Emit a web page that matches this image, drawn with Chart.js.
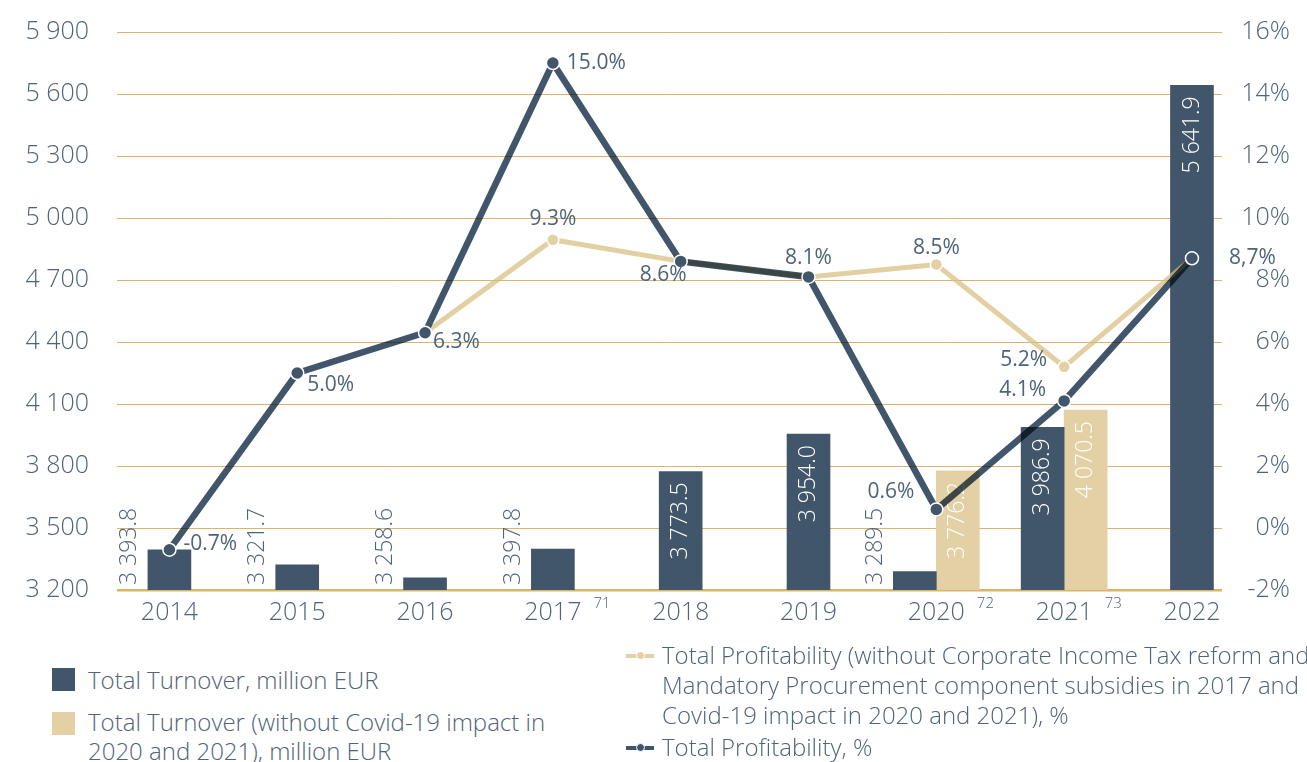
<!DOCTYPE html>
<html>
<head>
<meta charset="utf-8">
<title>Turnover and profitability</title>
<script src="https://cdn.jsdelivr.net/npm/chart.js@4.4.0/dist/chart.umd.min.js"></script>
<style>
  body { margin: 0; background: #fff; font-family: "Open Sans", sans-serif; font-weight: 300; color: #4f6478; }
  #wrap { position: relative; width: 1307px; height: 762px; overflow: hidden; }
  #chartBox { position: absolute; left: 0; top: 0; width: 1307px; height: 640px; }
  .lg { position: absolute; font-size: 24px; white-space: nowrap; }
  .sq { position: absolute; width: 23px; height: 23px; }
  .mk { position: absolute; width: 28px; height: 4px; }
  .mk i { position: absolute; left: 10px; top: -3px; width: 7px; height: 7px; border-radius: 50%; border: 1px solid #fff; }
</style>
</head>
<body>
<div id="wrap">
  <div id="chartBox"><canvas id="chart"></canvas></div>

  <div class="sq" style="left:52px; top:668px; background:#42566b;"></div>
  <div class="lg" style="left:88px; top:665px; line-height:30px;">Total Turnover, million EUR</div>

  <div class="sq" style="left:52px; top:712px; background:#e3d0a5;"></div>
  <div class="lg" style="left:88px; top:707px; line-height:29px;">Total Turnover (without Covid-19 impact in<br>2020 and 2021), million EUR</div>

  <div class="mk" style="left:626px; top:654px; background:#e3d0a5;"><i style="background:#e3d0a5;"></i></div>
  <div class="lg" style="left:662px; top:640px; line-height:30px;">Total Profitability (without Corporate Income Tax reform and<br>Mandatory Procurement component subsidies in 2017 and<br>Covid-19 impact in 2020 and 2021), %</div>

  <div class="mk" style="left:626px; top:746px; background:#42566b;"><i style="background:#42566b;"></i></div>
  <div class="lg" style="left:662px; top:732px; line-height:30px;">Total Profitability, %</div>
</div>

<script>
const years = [2014, 2015, 2016, 2017, 2018, 2019, 2020, 2021, 2022];
const footnotes = ["", "", "", "71", "", "", "72", "73", ""];

// million EUR
const turnover = [3393.8, 3321.7, 3258.6, 3397.8, 3773.5, 3954.0, 3289.5, 3986.9, 5641.9];
const turnoverAdj = [null, null, null, null, null, null, 3776.2, 4070.5, null];

// %
const profit = [-0.7, 5.0, 6.3, 15.0, 8.6, 8.1, 0.6, 4.1, 8.7];
const profitAdj = [null, null, 6.3, 9.3, 8.6, 8.1, 8.5, 5.2, 8.7];

const turnoverTicks = [3200, 3500, 3800, 4100, 4400, 4700, 5000, 5300, 5600, 5900];
const profitTicks = [-2, 0, 2, 4, 6, 8, 10, 12, 14, 16];

const NAVY = "#42566b";
const SAND = "#e3d0a5";
const TEXT = "#4f6478";
const GRID = "#dcb467";
const FONT = "'Open Sans', sans-serif";

// where each profitability label sits next to its point
const profitLabelPos = [
  { dx: 14, dy: -6, align: "left" },
  { dx: 10, dy: 12, align: "left" },
  { dx: 8, dy: 9, align: "left" },
  { dx: 14, dy: 0, align: "left" },
  { dx: 6, dy: 14, align: "right" },
  { dx: 0, dy: -19, align: "center" },
  { dx: -22, dy: -17, align: "right" },
  { dx: -18, dy: -11, align: "right" },
  { dx: 37, dy: 0, align: "left" }
];
const profitAdjLabelPos = [
  null, null, null,
  { dx: 0, dy: -21, align: "center" },
  null, null,
  { dx: 0, dy: -16, align: "center" },
  { dx: -17, dy: -7, align: "right" },
  null
];

function spaced(n, dec) {
  const [i, d] = n.toFixed(dec).split(".");
  return i.replace(/\B(?=(\d{3})+(?!\d))/g, " ") + (d ? "." + d : "");
}

function pctText(v, i) {
  const s = v.toFixed(1);
  // the last year is printed with a decimal comma
  return (i === years.length - 1 ? s.replace(".", ",") : s) + "%";
}

const pts = (arr) => years.map((y, i) => ({ x: y, y: arr[i] }));

/* ---------- rotated value labels on bars ---------- */
const barLabels = {
  id: "barLabels",
  afterDatasetDraw(chart, args) {
    const ds = chart.data.datasets[args.index];
    if (ds.type !== "bar") return;
    const { ctx, chartArea } = chart;
    ctx.save();
    ctx.font = "300 23px " + FONT;
    ctx.textBaseline = "middle";
    args.meta.data.forEach((bar, i) => {
      const v = ds.data[i].y;
      if (v == null) return;
      const p = bar.getProps(["x", "y", "base", "width"], true);
      const bottom = Math.min(p.base, chartArea.bottom);
      const txt = spaced(v, 1);
      const w = ctx.measureText(txt).width;
      ctx.save();
      if (bottom - p.y >= w + 24) {
        ctx.translate(p.x, p.y + 11);
        ctx.rotate(-Math.PI / 2);
        ctx.textAlign = "right";
        ctx.fillStyle = "#ffffff";
      } else {
        ctx.translate(p.x - p.width / 2 - 18, bottom - 5);
        ctx.rotate(-Math.PI / 2);
        ctx.textAlign = "left";
        ctx.fillStyle = TEXT;
      }
      ctx.fillText(txt, 0, 0);
      ctx.restore();
    });
    ctx.restore();
  }
};

/* ---------- blend mode for the navy line ---------- */
const blend = {
  id: "blend",
  beforeDatasetDraw(chart, args) {
    const mode = chart.data.datasets[args.index].blendMode;
    if (!mode) return;
    chart.ctx.save();
    chart.ctx.globalCompositeOperation = mode;
  },
  afterDatasetDraw(chart, args) {
    if (chart.data.datasets[args.index].blendMode) chart.ctx.restore();
  }
};

/* ---------- percent labels + footnote marks ---------- */
const extras = {
  id: "extras",
  afterDatasetsDraw(chart) {
    const { ctx } = chart;
    ctx.save();
    ctx.font = "400 21px " + FONT;
    ctx.fillStyle = TEXT;
    ctx.textBaseline = "middle";

    const dark = chart.getDatasetMeta(2);
    dark.data.forEach((p, i) => {
      const pos = profitLabelPos[i];
      ctx.textAlign = pos.align;
      ctx.fillText(pctText(profit[i], i), p.x + pos.dx, p.y + pos.dy);
    });

    const sand = chart.getDatasetMeta(4);
    sand.data.forEach((p, i) => {
      const pos = profitAdjLabelPos[i];
      if (!pos || profitAdj[i] == null) return;
      ctx.textAlign = pos.align;
      ctx.fillText(pctText(profitAdj[i], i), p.x + pos.dx, p.y + pos.dy);
    });

    // superscript footnote numbers beside the year labels
    const xs = chart.scales.x;
    ctx.font = "300 25px " + FONT;
    footnotes.forEach((f, i) => {
      if (!f) return;
      const cx = xs.getPixelForValue(years[i]);
      const half = ctx.measureText(String(years[i])).width / 2;
      ctx.save();
      ctx.font = "300 15px " + FONT;
      ctx.textAlign = "left";
      ctx.fillText(f, cx + half + 12, xs.top + 14);
      ctx.restore();
    });
    ctx.restore();
  }
};

// vertical axes: fixed widths, no extra label padding at the ends
const fitY = (width) => (s) => {
  s.width = width;
  s.paddingTop = 0;
  s.paddingBottom = 0;
};

new Chart(document.getElementById("chart"), {
  data: {
    datasets: [
      {
        type: "bar",
        label: "Total Turnover, million EUR",
        data: pts(turnover),
        yAxisID: "y",
        backgroundColor: NAVY,
        barThickness: 43,
        skipNull: true,
        order: 4
      },
      {
        type: "bar",
        label: "Total Turnover (without Covid-19 impact), million EUR",
        data: pts(turnoverAdj),
        yAxisID: "y",
        backgroundColor: SAND,
        barThickness: 43,
        skipNull: true,
        order: 5
      },
      {
        // points of the navy line, drawn on top
        type: "line",
        data: pts(profit),
        yAxisID: "yp",
        showLine: false,
        pointRadius: 6.5,
        pointBackgroundColor: NAVY,
        pointBorderColor: "#ffffff",
        pointBorderWidth: 1.5,
        order: 1
      },
      {
        type: "line",
        label: "Total Profitability, %",
        data: pts(profit),
        yAxisID: "yp",
        borderColor: NAVY,
        borderWidth: 6.5,
        pointRadius: 0,
        tension: 0,
        blendMode: "multiply",
        order: 2
      },
      {
        type: "line",
        label: "Total Profitability (adjusted), %",
        data: pts(profitAdj),
        yAxisID: "yp",
        borderColor: "rgba(215,188,126,0.72)",
        borderWidth: 5,
        pointRadius: 6,
        pointBackgroundColor: SAND,
        pointBorderColor: "#ffffff",
        pointBorderWidth: 1.5,
        tension: 0,
        order: 3
      }
    ]
  },
  options: {
    responsive: true,
    maintainAspectRatio: false,
    animation: false,
    events: [],
    layout: { padding: { top: 32, left: 0, right: 17, bottom: 0 } },
    plugins: {
      legend: { display: false },
      tooltip: { enabled: false }
    },
    scales: {
      x: {
        type: "linear",
        offset: false,
        min: years[0] - 0.41,
        max: years[years.length - 1] + 0.235,
        afterBuildTicks: (s) => { s.ticks = years.map(v => ({ value: v })); },
        afterFit: (s) => { s.height = 50; },
        grid: { display: false, drawTicks: false, offset: false },
        border: { display: false },
        ticks: {
          autoSkip: false,
          maxRotation: 0,
          padding: 8,
          color: TEXT,
          font: { family: FONT, size: 25, weight: "300" },
          callback: (v) => String(v)
        }
      },
      y: {
        position: "left",
        min: turnoverTicks[0],
        max: turnoverTicks[turnoverTicks.length - 1],
        afterBuildTicks: (s) => { s.ticks = turnoverTicks.map(v => ({ value: v })); },
        afterFit: fitY(117),
        grid: {
          color: GRID,
          drawTicks: false,
          lineWidth: (c) => (c.tick && c.tick.value === turnoverTicks[0] ? 2.5 : 1)
        },
        border: { display: false },
        ticks: {
          padding: 28,
          color: TEXT,
          font: { family: FONT, size: 25, weight: "300" },
          callback: (v) => spaced(v, 0)
        }
      },
      yp: {
        position: "right",
        min: profitTicks[0],
        max: profitTicks[profitTicks.length - 1],
        afterBuildTicks: (s) => { s.ticks = profitTicks.map(v => ({ value: v })); },
        afterFit: fitY(68),
        grid: { display: false, drawTicks: false },
        border: { display: false },
        ticks: {
          padding: 4,
          crossAlign: "far",
          color: TEXT,
          font: { family: FONT, size: 25, weight: "300" },
          callback: (v) => v + "%"
        }
      }
    }
  },
  plugins: [blend, barLabels, extras]
});
</script>
</body>
</html>
